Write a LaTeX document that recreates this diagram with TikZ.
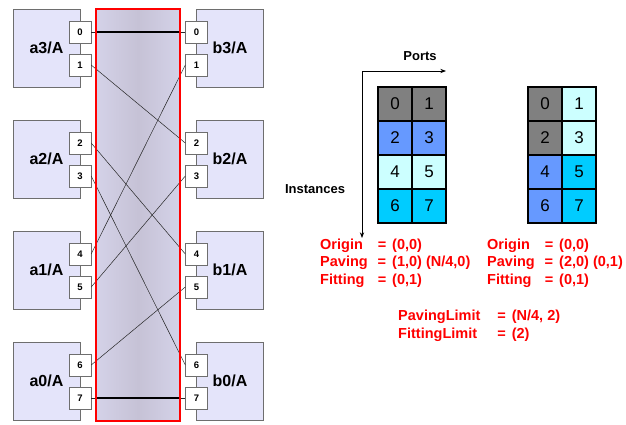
\documentclass[tikz,border=0pt]{standalone}
\usepackage{fontspec}
\setmainfont{Liberation Sans}
\usetikzlibrary{arrows.meta}

\definecolor{boxfill}{RGB}{228,228,250}
\definecolor{boxline}{RGB}{110,110,110}
\definecolor{busfill}{RGB}{212,210,232}
\definecolor{busdark}{RGB}{198,194,214}
\definecolor{cellgray}{RGB}{128,128,128}
\definecolor{cellblue}{RGB}{102,153,255}
\definecolor{cellpale}{RGB}{204,255,255}
\definecolor{cellcyan}{RGB}{0,204,255}

\begin{document}
\begin{tikzpicture}[x=1pt, y=-1pt, >={Stealth[length=2mm]},
  inst/.style={draw=boxline, fill=boxfill, minimum width=67pt, minimum height=78pt,
    inner sep=0pt, font=\bfseries\fontsize{16}{18}\selectfont},
  port/.style={draw=boxline, fill=white, minimum size=22pt, inner sep=0pt,
    font=\bfseries\fontsize{9.5}{10}\selectfont},
  wire/.style={black!85, line width=0.5pt},
  cell/.style={draw, line width=1.2pt, minimum size=34pt, inner sep=0pt,
    font=\fontsize{17}{18}\selectfont},
  rule/.style={red, inner sep=0pt, anchor=west, font=\bfseries\fontsize{14.5}{17.5}\selectfont}]
  \useasboundingbox (0,0) rectangle (626,424);

  % the bus between the two sides
  \node[left color=busfill, right color=busfill, middle color=busdark,
    minimum width=84pt, minimum height=412pt, inner sep=0pt] (bus) at (138,215) {};

  \foreach \k/\top/\p/\q in {3/9/0/1, 2/120/2/3, 1/231/4/5, 0/342/6/7} {
    \node[inst] (a\k) at (46.5,\top+39) {a\k/A};
    \node[inst] (b\k) at (230,\top+39) {b\k/A};
    \node[port] (pa\p) at (80,\top+23) {\p};
    \node[port] (pa\q) at (80,\top+56) {\q};
    \node[port] (pb\p) at (196.5,\top+23) {\p};
    \node[port] (pb\q) at (196.5,\top+56) {\q};
  }

  \foreach \s/\t in {0/0, 1/2, 2/4, 3/6, 4/1, 5/3, 6/5, 7/7}
    \draw[wire] (pa\s.east) -- (pb\t.west);
  \draw[line width=1.6pt] (pa0.east -| bus.west) -- (pb0.west -| bus.east);
  \draw[line width=1.6pt] (pa7.east -| bus.west) -- (pb7.west -| bus.east);
  \draw[red, line width=2pt] (bus.north west) rectangle (bus.south east);

  % ports / instances axes
  \coordinate (corner) at (362,71);
  \coordinate (xend) at (446,71);
  \coordinate (yend) at (362,238);
  \draw[->, line width=0.8pt] (corner) -- (xend);
  \draw[->, line width=0.8pt] (corner) -- (yend);
  \node[font=\bfseries\fontsize{13}{15}\selectfont] (ports) at (420,56) {Ports};
  \node[font=\bfseries\fontsize{13}{15}\selectfont] (insts) at (315,189) {Instances};

  \foreach \n/\c in {0/cellgray, 1/cellgray, 2/cellblue, 3/cellblue,
                     4/cellpale, 5/cellpale, 6/cellcyan, 7/cellcyan}
    \node[cell, fill=\c] (l\n) at ({395+34*mod(\n,2)}, {104+34*int(\n/2)}) {\n};
  \foreach \n/\c in {0/cellgray, 1/cellpale, 2/cellgray, 3/cellpale,
                     4/cellblue, 5/cellcyan, 6/cellblue, 7/cellcyan}
    \node[cell, fill=\c] (r\n) at ({545+34*mod(\n,2)}, {104+34*int(\n/2)}) {\n};

  \node[rule] (lrule) at (320,263) {\begin{tabular}{@{}l@{\hspace{10pt}}c@{\hspace{6pt}}l@{}}
    Origin & = & (0,0)\\ Paving & = & (1,0) (N/4,0)\\ Fitting & = & (0,1)\end{tabular}};
  \node[rule] (rrule) at (487,263) {\begin{tabular}{@{}l@{\hspace{10pt}}c@{\hspace{6pt}}l@{}}
    Origin & = & (0,0)\\ Paving & = & (2,0) (0,1)\\ Fitting & = & (0,1)\end{tabular}};
  \node[rule] (limits) at (398,326) {\begin{tabular}{@{}l@{\hspace{17pt}}c@{\hspace{6pt}}l@{}}
    PavingLimit & = & (N/4, 2)\\ FittingLimit & = & (2)\end{tabular}};
\end{tikzpicture}
\end{document}
